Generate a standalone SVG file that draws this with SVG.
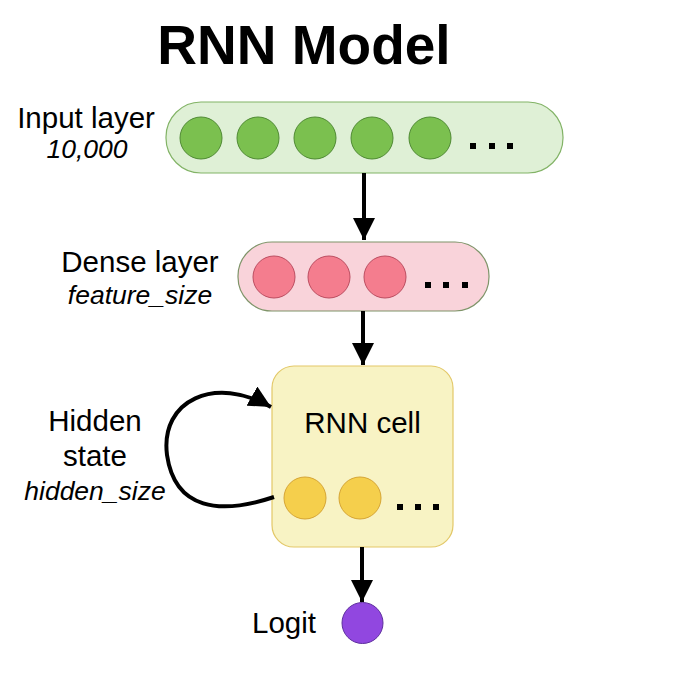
<svg xmlns="http://www.w3.org/2000/svg" width="684" height="686" viewBox="0 0 684 686">
<defs>
<style>
.lbl{font-family:"Liberation Sans",Arial,sans-serif;font-size:29.5px;fill:#000;text-anchor:middle}
.it{font-family:"Liberation Sans",Arial,sans-serif;font-size:26.5px;font-style:italic;fill:#000;text-anchor:middle}
.g{fill:#7bc04f;stroke:#4f8a33;stroke-width:1}
.p{fill:#f47d8e;stroke:#bc4d60;stroke-width:1}
.y{fill:#f5cf4c;stroke:#d6a534;stroke-width:1}
.dot{fill:#000}
.conn{fill:none;stroke:#000;stroke-width:4}
</style>
<marker id="ah" viewBox="0 0 10 10" refX="10" refY="5" markerWidth="5.5" markerHeight="5.5" markerUnits="strokeWidth" orient="auto">
<path d="M0,0 L10,5 L0,10 z" fill="#000"/>
</marker>
</defs>
<rect width="684" height="686" fill="#fff"/>
<text x="304" y="64" font-family="Liberation Sans,Arial,sans-serif" font-weight="bold" font-size="55" text-anchor="middle">RNN Model</text>

<g id="input-layer">
<rect x="166" y="102" width="397" height="71" rx="35" fill="#dff0d6" stroke="#82b366" stroke-width="1.2"/>
<circle class="g" cx="201" cy="138" r="21"/>
<circle class="g" cx="258" cy="138" r="21"/>
<circle class="g" cx="315" cy="138" r="21"/>
<circle class="g" cx="372" cy="138" r="21"/>
<circle class="g" cx="430" cy="138" r="21"/>
<rect class="dot" x="470" y="143" width="6" height="6"/>
<rect class="dot" x="489" y="143" width="6" height="6"/>
<rect class="dot" x="507" y="143" width="6" height="6"/>
<text class="lbl" x="86" y="128">Input layer</text>
<text class="it" x="87" y="158">10,000</text>
</g>

<g id="dense-layer">
<rect x="238" y="242" width="251" height="69" rx="34" fill="#f9d3da" stroke="#7f9469" stroke-width="1.2"/>
<circle class="p" cx="274" cy="277" r="21"/>
<circle class="p" cx="329" cy="277" r="21"/>
<circle class="p" cx="385" cy="277" r="21"/>
<rect class="dot" x="425" y="282" width="6" height="6"/>
<rect class="dot" x="443" y="282" width="6" height="6"/>
<rect class="dot" x="462" y="282" width="6" height="6"/>
<text class="lbl" x="140" y="272">Dense layer</text>
<text class="it" x="140" y="304">feature_size</text>
</g>

<g id="rnn-cell">
<rect x="272" y="366" width="181" height="181" rx="22" fill="#f8f3c4" stroke="#e3c868" stroke-width="1.2"/>
<text class="lbl" x="362.5" y="433">RNN cell</text>
<circle class="y" cx="305" cy="498" r="21"/>
<circle class="y" cx="360" cy="498" r="21"/>
<rect class="dot" x="397" y="504" width="6" height="6"/>
<rect class="dot" x="415" y="504" width="6" height="6"/>
<rect class="dot" x="433" y="504" width="6" height="6"/>
</g>

<g id="hidden-state-label">
<text class="lbl" x="95" y="431">Hidden</text>
<text class="lbl" x="95" y="466">state</text>
<text class="it" x="95" y="500">hidden_size</text>
</g>

<g id="logit">
<circle cx="362.5" cy="623" r="20.5" fill="#9147e0" stroke="#5e2f9e" stroke-width="1"/>
<text class="lbl" x="284" y="633">Logit</text>
</g>

<g id="connectors">
<path class="conn" d="M364,173 L364,240" marker-end="url(#ah)"/>
<path class="conn" d="M363,311 L363,365" marker-end="url(#ah)"/>
<path class="conn" d="M362,547 L362,602" marker-end="url(#ah)"/>
<path class="conn" d="M274,497 C220,515 175,510 167,455 C160,400 215,375 271,407" marker-end="url(#ah)"/>
</g>
</svg>
